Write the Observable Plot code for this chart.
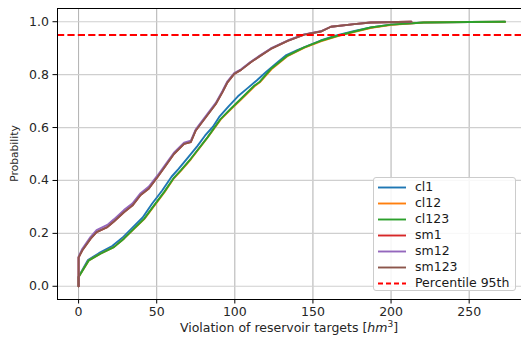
<!DOCTYPE html>
<html>
<head>
<meta charset="utf-8">
<script src="https://cdn.jsdelivr.net/npm/d3@7"></script>
<script src="https://cdn.jsdelivr.net/npm/@observablehq/plot@0.6"></script>
<style>
  html, body { margin: 0; padding: 0; background: #fff; }
  #wrap { position: relative; width: 521px; height: 337px; font-family: "DejaVu Sans", sans-serif; }
  #legend { position: absolute; left: 373px; top: 177px; width: 143px; height: 114px;
    background: rgba(255,255,255,0.85); border: 1px solid #cccccc; border-radius: 3px; box-sizing: border-box; }
  .row { position: absolute; left: 0; height: 16px; font-size: 12.5px; color: #1a1a1a; }
  .row svg { position: absolute; left: 3px; top: 0; }
  .row span { position: absolute; left: 41px; top: 0px; line-height: 16px; white-space: nowrap; }
</style>
</head>
<body>
<div id="wrap"><div id="legend"></div></div>
<script>
// ---- data : [violation hm3, probability]
const cl1 = [[0,0],[0,0.036],[6,0.099],[13,0.125],[21.5,0.152],[28,0.183],[34.5,0.222],[41,0.26],[47,0.312],[53.5,0.362],[59.5,0.414],[64,0.444],[70.5,0.49],[76,0.53],[81,0.57],[86,0.603],[90,0.64],[96,0.68],[102,0.718],[108,0.748],[114,0.778],[120,0.81],[127,0.845],[133,0.874],[140,0.893],[147,0.91],[155,0.929],[165,0.948],[176,0.964],[187,0.978],[200,0.989],[221,0.997],[250,0.999],[273,1.0]];
const cl12 = [[0,0],[0,0.035],[6.6,0.098],[14,0.123],[22.6,0.148],[29,0.18],[35.5,0.217],[42,0.254],[48.5,0.305],[55,0.356],[61,0.408],[65.6,0.437],[72,0.481],[82.5,0.562],[91,0.631],[97.6,0.67],[104,0.706],[112.6,0.756],[116,0.771],[123.4,0.82],[134,0.871],[144.6,0.902],[155.5,0.927],[166,0.946],[176.8,0.962],[187.5,0.977],[200.5,0.988],[221,0.997],[250,0.999],[273,1.0]];
const cl123 = [[0,0],[0,0.035],[6.6,0.098],[14,0.123],[22.6,0.148],[29,0.18],[35.5,0.218],[41.9,0.255],[48.3,0.306],[54.7,0.356],[61,0.41],[65.4,0.438],[71.8,0.482],[82.5,0.563],[91,0.633],[97.4,0.671],[103.8,0.708],[112.4,0.758],[115.6,0.771],[123,0.821],[133.8,0.872],[144.4,0.903],[155,0.928],[165.8,0.947],[176.5,0.963],[187,0.978],[200,0.989],[221,0.997],[250,0.999],[273,1.0]];
const sm1 = [[0,0],[0,0.109],[2.4,0.136],[7.7,0.18],[11.5,0.205],[18.4,0.224],[22.6,0.245],[29,0.28],[34.4,0.305],[39.7,0.345],[45,0.37],[50.4,0.412],[55,0.45],[61,0.5],[67.5,0.538],[71.8,0.545],[75,0.589],[81.4,0.639],[87.8,0.689],[92,0.733],[95.3,0.771],[99.6,0.803],[104,0.818],[110,0.846],[116,0.87],[123,0.897],[133.8,0.928],[144.4,0.951],[155,0.963],[161.5,0.981],[176.5,0.991],[187,0.997],[213,1.0]];
const sm12 = [[0,0],[0,0.112],[2.4,0.142],[7.7,0.187],[11.5,0.212],[18.4,0.232],[22.6,0.253],[29,0.288],[34.4,0.313],[39.7,0.352],[45,0.377],[50.4,0.418],[55,0.455],[61,0.505],[67.5,0.543],[71.8,0.55],[75,0.593],[81.4,0.643],[87.8,0.693],[92,0.737],[95.3,0.775],[99.6,0.806],[104,0.82],[110,0.848],[116,0.872],[123,0.899],[133.8,0.929],[144.4,0.952],[155,0.964],[161.5,0.981],[176.5,0.991],[187,0.997],[213,1.0]];
const sm123 = [[0,0],[0,0.109],[2.4,0.136],[7.7,0.18],[11.5,0.205],[18.4,0.224],[22.6,0.245],[29,0.28],[34.4,0.305],[39.7,0.345],[45,0.37],[50.4,0.412],[55,0.45],[61,0.5],[67.5,0.538],[71.8,0.545],[75,0.589],[81.4,0.639],[87.8,0.689],[92,0.733],[95.3,0.771],[99.6,0.803],[104,0.818],[110,0.846],[116,0.87],[123,0.897],[133.8,0.928],[144.4,0.951],[155,0.963],[161.5,0.981],[176.5,0.991],[187,0.997],[213,1.0]];
const seriesNames = ["cl1", "cl12", "cl123", "sm1", "sm12", "sm123"];
const seriesData = [cl1, cl12, cl123, sm1, sm12, sm123];
const seriesColors = ["#1f77b4", "#ff7f0e", "#2ca02c", "#d62728", "#9467bd", "#8c564b"];
const percentile = 0.95;
const percentileLabel = "Percentile 95th";
const xTicks = [0, 50, 100, 150, 200, 250];
const yTicks = [0, 0.2, 0.4, 0.6, 0.8, 1.0];
const xDomain = [-13.5, 283.5];
const yDomain = [-0.05, 1.05];

const font = "DejaVu Sans, sans-serif";
const marks = [
  Plot.ruleX(xTicks, {stroke: "#b0b0b0", strokeWidth: 1}),
  Plot.ruleY(yTicks, {stroke: "#cfcfcf", strokeWidth: 1.2}),
];
seriesData.forEach((d, i) => {
  marks.push(Plot.line(d, {x: r => r[0], y: r => r[1], stroke: seriesColors[i], strokeWidth: 1.9, curve: "linear"}));
});
marks.push(Plot.ruleY([percentile], {stroke: "#ff0000", strokeWidth: 1.9, strokeDasharray: "7.2,3.2"}));
marks.push(Plot.ruleX([xDomain[0]], {stroke: "#000", strokeWidth: 1}));
marks.push(Plot.ruleY([yDomain[0]], {stroke: "#000", strokeWidth: 1}));
marks.push(Plot.ruleY([yDomain[1]], {stroke: "#000", strokeWidth: 1}));
marks.push(Plot.axisX(xTicks, {tickSize: 4.5, tickPadding: 3, fontSize: 12.5, fill: "#262626", label: null, tickFormat: d3.format("d")}));
marks.push(Plot.axisY(yTicks, {tickSize: 4.5, tickPadding: 4, fontSize: 12.5, fill: "#262626", label: null, tickFormat: d3.format(".1f")}));

const chart = Plot.plot({
  width: 521, height: 337,
  marginLeft: 57, marginRight: 0, marginTop: 8, marginBottom: 38,
  x: {domain: xDomain},
  y: {domain: yDomain},
  style: {fontFamily: font, background: "transparent", overflow: "visible"},
  marks
});
document.getElementById("wrap").prepend(chart);

// axis labels
const svg = d3.select(chart);
const xl = svg.append("text").attr("x", 289).attr("y", 332).attr("text-anchor", "middle")
  .attr("font-family", font).attr("font-size", 12.5).attr("fill", "#262626");
xl.append("tspan").text("Violation of reservoir targets [");
xl.append("tspan").attr("font-style", "italic").text("hm");
xl.append("tspan").attr("font-size", 9).attr("dy", -5).text("3");
xl.append("tspan").attr("dy", 5).text("]");
svg.append("text").attr("transform", "translate(18,153.5) rotate(-90)").attr("text-anchor", "middle")
  .attr("font-family", font).attr("font-size", 10.7).attr("fill", "#262626").text("Probability");

// legend
const legend = document.getElementById("legend");
const items = seriesNames.map((n, i) => ({label: n, color: seriesColors[i], dash: null}))
  .concat([{label: percentileLabel, color: "#ff0000", dash: "5,3"}]);
items.forEach((it, i) => {
  const row = document.createElement("div");
  row.className = "row";
  row.style.top = (1 + i * 16) + "px";
  row.style.width = "140px";
  row.innerHTML = `<svg width="30" height="16"><line x1="1" x2="29" y1="8.5" y2="8.5" stroke="${it.color}" stroke-width="1.9" ${it.dash ? `stroke-dasharray="${it.dash}"` : ""}/></svg><span>${it.label}</span>`;
  legend.appendChild(row);
});
</script>
</body>
</html>
